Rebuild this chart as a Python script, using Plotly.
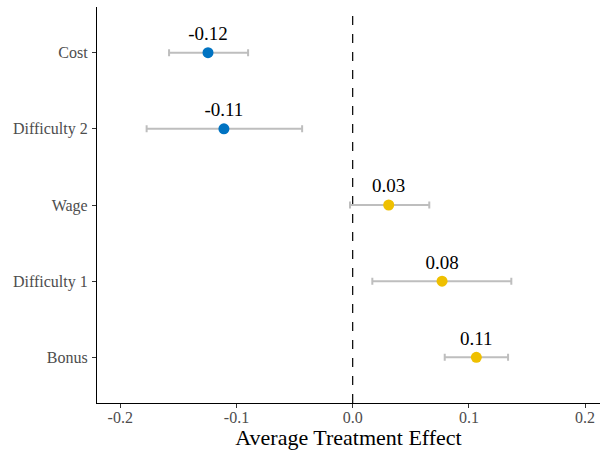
import plotly.graph_objects as go

categories = ["Bonus", "Difficulty 1", "Wage", "Difficulty 2", "Cost"]
estimates = [0.1064, 0.0769, 0.031, -0.1108, -0.1245]
ci_low = [0.0792, 0.0169, -0.0023, -0.1773, -0.158]
ci_high = [0.1337, 0.1365, 0.0659, -0.0435, -0.090]
labels = ["0.11", "0.08", "0.03", "-0.11", "-0.12"]
x_ticks = [-0.2, -0.1, 0.0, 0.1, 0.2]
x_tick_labels = ["-0.2", "-0.1", "0.0", "0.1", "0.2"]

colors = ["#0073C2" if v < 0 else "#EFC000" for v in estimates]
ypos = list(range(len(categories)))

font_family = "Liberation Serif"

fig = go.Figure()
fig.add_trace(go.Scatter(
    x=estimates, y=ypos, mode="markers+text",
    text=labels, textposition="top center",
    textfont=dict(family=font_family, size=19, color="black"),
    marker=dict(size=11, color=colors),
    error_x=dict(type="data", symmetric=False,
                 array=[h - e for h, e in zip(ci_high, estimates)],
                 arrayminus=[e - l for e, l in zip(estimates, ci_low)],
                 color="#BEBEBE", thickness=2, width=3.5),
    showlegend=False, cliponaxis=False,
))

fig.add_shape(type="line", x0=0, x1=0, y0=0, y1=1, xref="x", yref="paper",
              line=dict(color="black", width=1.2, dash="dash"), layer="below")

fig.update_layout(
    width=601, height=450,
    margin=dict(l=97, r=1, t=7, b=47),
    plot_bgcolor="white", paper_bgcolor="white",
    font=dict(family=font_family, color="#4D4D4D", size=16),
    xaxis=dict(range=[-0.22, 0.2128], tickvals=x_ticks, ticktext=x_tick_labels,
               showgrid=False, zeroline=False, showline=True, linecolor="black",
               linewidth=1.2, ticks="outside", ticklen=4, tickcolor="#333333",
               ticklabelstandoff=-4,
               tickfont=dict(family=font_family, size=16, color="#4D4D4D"),
               title=dict(text="Average Treatment Effect", standoff=2,
                          font=dict(family=font_family, size=22, color="black"))),
    yaxis=dict(range=[-0.6, 4.6], tickvals=ypos, ticktext=categories,
               showgrid=False, zeroline=False, showline=True, linecolor="black",
               linewidth=1.2, ticks="outside", ticklen=4, tickcolor="#333333",
               ticklabelstandoff=1,
               tickfont=dict(family=font_family, size=16, color="#4D4D4D")),
)

fig.write_html("out.html", config={"displayModeBar": False},
               post_script="document.body.style.margin='0';document.body.style.overflow='hidden';")
